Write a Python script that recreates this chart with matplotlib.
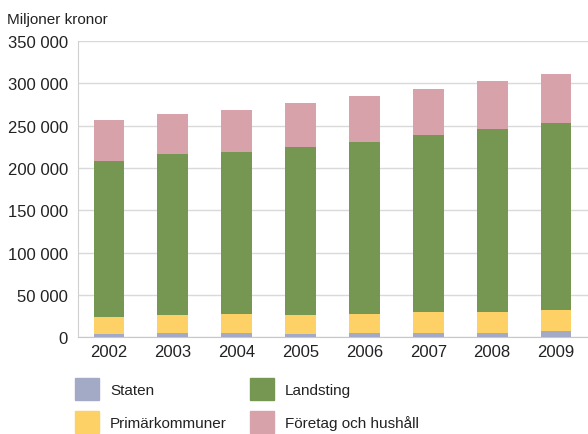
import matplotlib.pyplot as plt
import numpy as np
from matplotlib.patches import Rectangle
from matplotlib.ticker import FuncFormatter

plt.rcParams['font.family'] = ['Liberation Sans', 'DejaVu Sans']

years = ['2002', '2003', '2004', '2005', '2006', '2007', '2008', '2009']
series_names = ['Staten', 'Primärkommuner', 'Landsting', 'Företag och hushåll']
staten = [4000, 5000, 5000, 4000, 5000, 5000, 5000, 7500]
primarkommuner = [20000, 21500, 22500, 22500, 22500, 25000, 25000, 25000]
landsting = [184000, 190000, 191500, 198500, 203500, 209000, 216000, 220000]
foretag = [48000, 47000, 49500, 52000, 54000, 54500, 56000, 58000]
colors = ['#a3aac6', '#fdd166', '#769751', '#d8a2ab']

fig = plt.figure(figsize=(5.88, 4.35), dpi=100)
ax = fig.add_axes([0.132, 0.222, 0.868, 0.682])

x = np.arange(len(years))
bottom = np.zeros(len(years))
for vals, col in zip([staten, primarkommuner, landsting, foretag], colors):
    ax.bar(x, vals, width=0.48, bottom=bottom, color=col, zorder=3)
    bottom += np.array(vals)

ax.set_xlim(-0.49, 7.5)
ax.set_ylim(0, 350000)
ax.set_yticks(np.arange(0, 350001, 50000))
ax.yaxis.set_major_formatter(FuncFormatter(lambda v, p: f'{int(v):,}'.replace(',', ' ')))
ax.set_xticks(x)
ax.set_xticklabels(years)
ax.tick_params(axis='both', length=0, labelsize=12, labelcolor='#222222')
ax.tick_params(axis='y', pad=7)
ax.tick_params(axis='x', pad=5)
ax.grid(axis='y', color='#d9d9d9', linewidth=1, zorder=0)
for side in ['top', 'right']:
    ax.spines[side].set_visible(False)
ax.spines['left'].set_color('#d0d0d0')
ax.spines['bottom'].set_color('#c8c8c8')

fig.text(7 / 588, 1 - 20 / 435, 'Miljoner kronor', fontsize=11, color='#222222',
         va='center', ha='left')

# legend drawn as swatches with labels in two columns
W, H = 588, 435
legend_pos = [(75, 379), (75, 412), (250, 379), (250, 412)]
for (px, py), name, col in zip(legend_pos, series_names, colors):
    fig.add_artist(Rectangle((px / W, 1 - (py + 22) / H), 24 / W, 22 / H,
                             transform=fig.transFigure, color=col))
    fig.text((px + 35) / W, 1 - (py + 12) / H, name, fontsize=11,
             color='#222222', va='center', ha='left')

fig.savefig('out.png', dpi=100)
